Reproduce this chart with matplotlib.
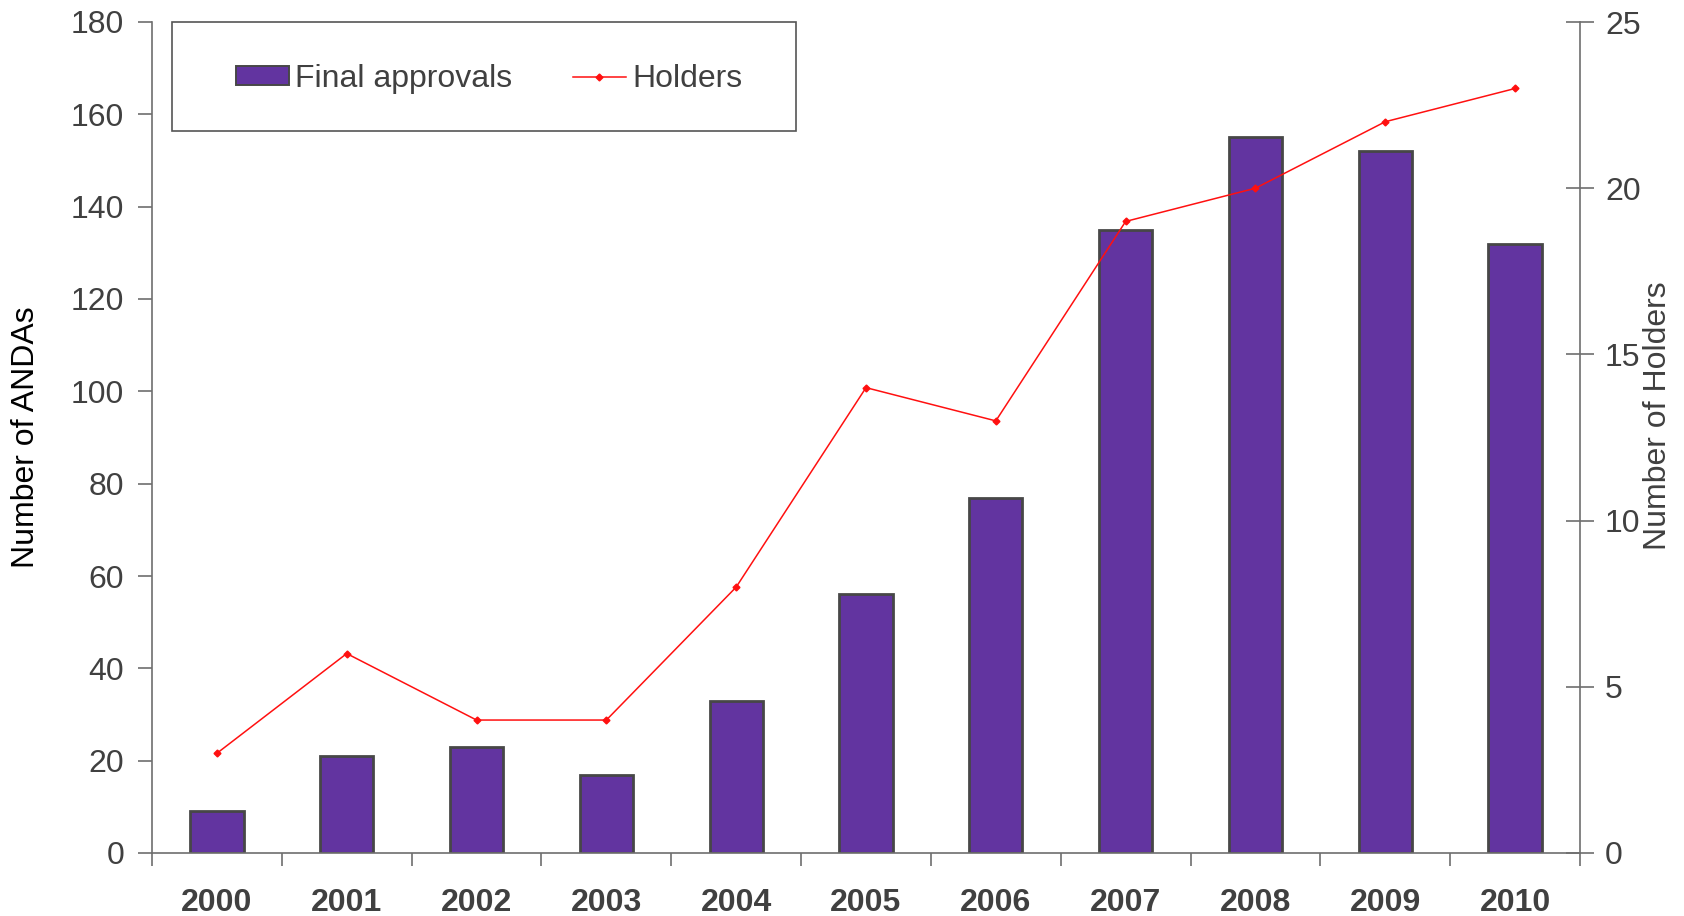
import numpy as np
import matplotlib.pyplot as plt
from matplotlib.lines import Line2D
from matplotlib.patches import Patch, Rectangle

years = ['2000', '2001', '2002', '2003', '2004', '2005', '2006', '2007', '2008', '2009', '2010']
final_approvals = [9, 21, 23, 17, 33, 56, 77, 135, 155, 152, 132]
holders = [3, 6, 4, 4, 8, 14, 13, 19, 20, 22, 23]

plt.rcParams['font.family'] = ['Liberation Sans', 'DejaVu Sans']
txt = '#404040'
axc = '#6e6e6e'
purple = '#6234a0'
fs = 23

fig = plt.figure(figsize=(16.84, 9.16), dpi=100)
ax = fig.add_axes([152 / 1684, 1 - 853 / 916, (1580 - 152) / 1684, (853 - 22) / 916])
x = np.arange(len(years))

ax.bar(x, final_approvals, width=0.41, color=purple, edgecolor='#474747', linewidth=2.0, zorder=2)
ax.set_xlim(-0.5, len(years) - 0.5)
ax.set_ylim(0, 180)
ax.set_yticks(np.arange(0, 181, 20))
ax.tick_params(axis='y', direction='out', length=10, width=1.2, color=axc,
               labelsize=fs, labelcolor=txt, pad=10)

# ticks at category boundaries, labels at centres
ax.set_xticks(np.arange(-0.5, len(years), 1))
ax.set_xticklabels([])
ax.set_xticks(x, minor=True)
ax.set_xticklabels(years, minor=True, fontweight='bold', fontsize=fs, color=txt)
ax.tick_params(axis='x', which='major', direction='out', length=9, width=1.2, color=axc)
ax.tick_params(axis='x', which='minor', length=0, pad=25)

for s in ['top', 'right']:
    ax.spines[s].set_visible(False)
for s in ['left', 'bottom']:
    ax.spines[s].set_color(axc)
    ax.spines[s].set_linewidth(1.2)
ax.set_ylabel('Number of ANDAs', fontsize=fs, color='black')
ax.yaxis.set_label_coords(-0.078, 0.5)

ax2 = ax.twinx()
ax2.plot(x, holders, color='#ff1010', linewidth=1.1, marker='D', markersize=3.5, zorder=3)
ax2.set_ylim(0, 25)
ax2.set_yticks(np.arange(0, 26, 5))
ax2.tick_params(axis='y', direction='inout', length=20, width=1.2, color=axc,
                labelsize=fs, labelcolor=txt, pad=8)
for s in ['top', 'left', 'bottom']:
    ax2.spines[s].set_visible(False)
ax2.spines['right'].set_color(axc)
ax2.spines['right'].set_linewidth(1.2)
ax2.set_ylabel('Number of Holders', fontsize=fs, color=txt)
ax2.yaxis.set_label_coords(1.044, 0.526)

# legend box drawn separately, entries placed inside it
W, H = 1428, 831
ax2.add_patch(Rectangle(((172 - 152) / W, 1 - (131 - 22) / H), 624 / W, 109 / H,
                        transform=ax2.transAxes, fill=True, facecolor='white',
                        edgecolor='#555555', linewidth=1.2, zorder=5, clip_on=False))
handles = [Patch(facecolor=purple, edgecolor='#474747', linewidth=1.4),
           Line2D([0], [0], color='#ff1010', linewidth=1.1, marker='D', markersize=3.5)]
leg = ax2.legend(handles, ['Final approvals', 'Holders'], ncol=2, fontsize=fs,
                 loc='center left', bbox_to_anchor=((236 - 152) / W, 1 - (79 - 22) / H),
                 frameon=False, borderpad=0, borderaxespad=0,
                 handlelength=1.65, handleheight=0.55, handletextpad=0.2, columnspacing=1.9,
                 labelcolor=txt)
leg.set_zorder(6)

fig.savefig('out.png', dpi=100)
